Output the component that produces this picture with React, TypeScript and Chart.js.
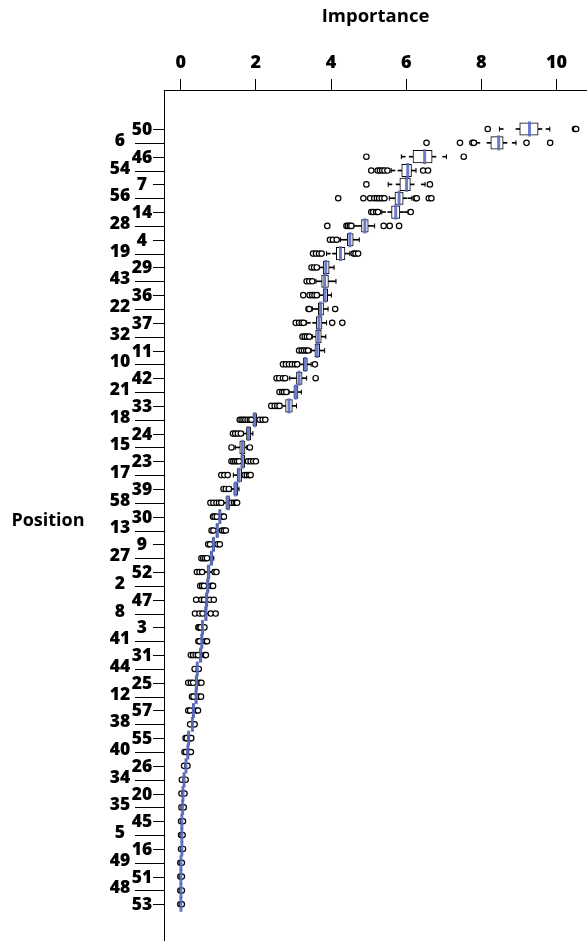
import React, { useEffect, useRef } from 'react';
import { Chart, registerables } from 'chart.js';

Chart.register(...registerables);

// ---------------- data ----------------
const positions = ['50','6','46','54','7','56','14','28','4','19','29','43','36','22','37','32','11','10','42','21','33','18','24','15','23','17','39','58','30','13','9','27','52','2','47','8','3','41','31','44','25','12','57','38','55','40','26','34','20','35','45','5','16','49','51','48','53'];

const whiskerLow = [8.48,7.86,5.87,5.6,5.52,5.55,5.35,4.6,4.25,3.88,3.68,3.6,3.68,3.5,3.35,3.5,3.47,3.16,2.9,2.88,2.68,1.9,1.66,1.45,1.58,1.4,1.35,1.14,1.0,0.92,0.8,0.74,0.62,0.64,0.64,0.62,0.55,0.52,0.47,0.4,0.35,0.36,0.28,0.28,0.17,0.15,0.11,0.05,0.04,0.03,0.01,0.01,0.01,0.0,0.0,0.0,0.0];
const q1 = [9.02,8.25,6.18,5.88,5.83,5.70,5.61,4.81,4.43,4.14,3.79,3.75,3.79,3.66,3.61,3.59,3.57,3.26,3.08,3.01,2.79,1.92,1.75,1.57,1.60,1.50,1.41,1.20,1.02,0.94,0.84,0.78,0.70,0.69,0.66,0.64,0.56,0.54,0.50,0.42,0.38,0.38,0.31,0.30,0.19,0.17,0.12,0.07,0.05,0.04,0.02,0.02,0.02,0.0,0.0,0.0,0.0];
const median = [9.28,8.46,6.49,6.04,6.01,5.81,5.72,4.90,4.50,4.25,3.86,3.83,3.84,3.72,3.68,3.66,3.63,3.31,3.15,3.06,2.88,1.97,1.80,1.64,1.64,1.55,1.46,1.26,1.04,0.97,0.87,0.82,0.74,0.72,0.69,0.67,0.58,0.56,0.53,0.44,0.42,0.41,0.34,0.31,0.21,0.19,0.14,0.09,0.06,0.05,0.03,0.03,0.03,0.005,0.005,0.005,0.005];
const q3 = [9.51,8.58,6.69,6.14,6.11,5.92,5.83,4.99,4.59,4.37,3.95,3.93,3.91,3.80,3.76,3.74,3.70,3.37,3.23,3.12,2.97,2.02,1.86,1.71,1.70,1.62,1.52,1.30,1.07,1.00,0.90,0.85,0.78,0.75,0.72,0.70,0.60,0.59,0.56,0.46,0.45,0.43,0.36,0.33,0.23,0.21,0.15,0.10,0.07,0.06,0.04,0.04,0.04,0.01,0.01,0.01,0.01];
const whiskerHigh = [9.82,8.92,7.07,6.26,6.5,6.15,6.05,5.16,4.75,4.5,4.08,4.13,4.01,3.92,3.88,3.86,3.83,3.47,3.35,3.21,3.08,2.05,1.92,1.76,1.74,1.66,1.55,1.32,1.09,1.05,0.94,0.88,0.85,0.8,0.74,0.74,0.61,0.62,0.6,0.47,0.48,0.46,0.39,0.34,0.25,0.23,0.16,0.12,0.08,0.07,0.05,0.05,0.05,0.02,0.02,0.02,0.02];
const outliers: number[][] = [
  [8.17, 10.49, 10.52],
  [6.54, 7.43, 7.76, 7.8, 9.2, 9.83],
  [4.94, 7.53],
  [5.07, 5.24, 5.3, 5.36, 5.42, 5.5, 6.45, 6.58],
  [4.94, 6.63],
  [4.19, 4.86, 5.04, 5.15, 5.22, 5.28, 5.35, 5.42, 6.25, 6.28, 6.6, 6.67],
  [5.07, 5.12, 5.2, 5.25, 6.12],
  [3.9, 4.41, 4.45, 4.5, 4.54, 5.4, 5.56, 5.81],
  [3.97, 4.05, 4.15],
  [3.52, 3.6, 3.68, 3.75, 4.6, 4.65, 4.72],
  [3.48, 3.55, 3.62],
  [3.35, 3.42, 3.5],
  [3.26, 3.43, 3.5, 3.56, 3.62],
  [3.4, 3.42, 4.11],
  [3.06, 3.15, 3.22, 3.27, 4.03, 4.3],
  [3.24, 3.3, 3.36, 3.42],
  [3.15, 3.22, 3.28, 3.34, 3.39],
  [2.72, 2.8, 2.88, 2.96, 3.04, 3.1, 3.57],
  [2.55, 2.62, 2.72, 2.78, 3.59],
  [2.63, 2.7, 2.75, 2.81],
  [2.41, 2.5, 2.57, 2.63],
  [1.57, 1.62, 1.67, 1.72, 1.78, 1.84, 1.88, 2.1, 2.18, 2.25],
  [1.39, 1.45, 1.52, 1.6],
  [1.35, 1.84],
  [1.35, 1.4, 1.45, 1.5, 1.55, 1.79, 1.86, 1.93, 2.0],
  [1.08, 1.16, 1.25, 1.7, 1.76, 1.82, 1.86],
  [1.14, 1.2, 1.28],
  [0.79, 0.87, 0.95, 1.02, 1.08, 1.35, 1.42, 1.47, 1.5],
  [0.86, 0.9, 0.96, 1.11, 1.15],
  [0.82, 0.87, 1.1, 1.15, 1.2],
  [0.73, 0.78, 0.98, 1.04],
  [0.55, 0.6, 0.65, 0.7],
  [0.43, 0.5, 0.57, 0.9, 0.95],
  [0.52, 0.57, 0.62, 0.82, 0.86],
  [0.41, 0.55, 0.62, 0.78, 0.88],
  [0.38, 0.5, 0.58, 0.8, 0.93],
  [0.47, 0.5, 0.53, 0.63],
  [0.47, 0.5, 0.66, 0.7],
  [0.27, 0.33, 0.4, 0.46, 0.64, 0.67],
  [0.37, 0.48],
  [0.2, 0.27, 0.33, 0.5, 0.55],
  [0.3, 0.34, 0.48, 0.54],
  [0.2, 0.25, 0.42, 0.46],
  [0.25, 0.37],
  [0.13, 0.16, 0.26, 0.28],
  [0.1, 0.14, 0.24, 0.27],
  [0.09, 0.18],
  [0.03, 0.13],
  [0.02, 0.1],
  [0.02, 0.08],
  [0.01, 0.06],
  [0.01, 0.05],
  [0.01, 0.06],
  [-0.01, 0.03],
  [-0.01, 0.03],
  [-0.01, 0.03],
  [-0.01, 0.03],
];
const xTicks = [0, 2, 4, 6, 8, 10];
const xTitle = 'Importance';
const yTitle = 'Position';

// ---------------- style ----------------
const FONT = '"Open Sans", "Liberation Sans", sans-serif';
const MEDIAN_COLOR = 'rgba(88,106,192,0.88)';
const STUB = 0.1; // whisker stub length in data units

const labelPlugin = {
  id: 'positionLabels',
  afterDraw(chart: any) {
    const { ctx, chartArea, scales } = chart;
    const ys = scales.y;
    const left = chartArea.left;
    ctx.save();
    ctx.fillStyle = '#000';
    ctx.strokeStyle = '#000';
    ctx.lineWidth = 1;
    ctx.textAlign = 'center';
    ctx.textBaseline = 'middle';
    ctx.font = `800 17.5px ${FONT}`;
    positions.forEach((p, i) => {
      const y = ys.getPixelForValue(i);
      const yy = Math.round(y) + 0.5;
      ctx.beginPath();
      if (i % 2 === 0) {
        ctx.moveTo(left - 11, yy);
        ctx.lineTo(left, yy);
        ctx.stroke();
        ctx.fillText(p, left - 22, y + 1);
      } else {
        ctx.moveTo(left - 29, yy);
        ctx.lineTo(left, yy);
        ctx.stroke();
        ctx.fillText(p, left - 44, y - 2);
      }
    });
    ctx.font = `bold 18px ${FONT}`;
    ctx.fillText(yTitle, 48, (chartArea.top + chartArea.bottom) / 2 + 5);
    ctx.restore();
  },
};

export default function App() {
  const canvasRef = useRef<HTMLCanvasElement | null>(null);

  useEffect(() => {
    if (!canvasRef.current) return;

    const boxData = positions.map((_, i) => ({ x: [q1[i], q3[i]], y: i }));
    const stubData: any[] = [];
    positions.forEach((_, i) => {
      const segs: [number, number][] = [
        [whiskerLow[i], q1[i]],
        [q3[i], whiskerHigh[i]],
      ];
      segs.forEach(([a, b]) => {
        if (b - a <= 0) return;
        if (b - a <= 2 * STUB) {
          stubData.push({ x: [a, b], y: i });
        } else {
          stubData.push({ x: [a, a + STUB], y: i });
          stubData.push({ x: [b - STUB, b], y: i });
        }
      });
    });
    const capData: any[] = [];
    positions.forEach((_, i) => {
      capData.push({ x: whiskerLow[i], y: i });
      capData.push({ x: whiskerHigh[i], y: i });
    });
    const outlierData: any[] = [];
    outliers.forEach((arr, i) => arr.forEach((v) => outlierData.push({ x: v, y: i })));
    const medianData = median.map((m, i) => ({ x: m, y: i }));

    Chart.defaults.font.family = FONT;

    const chart = new Chart(canvasRef.current, {
      type: 'scatter',
      data: {
        datasets: [
          {
            type: 'scatter',
            label: 'median',
            data: medianData,
            pointStyle: 'line',
            rotation: 90,
            radius: 7.5,
            hoverRadius: 7.5,
            borderWidth: 3,
            borderColor: MEDIAN_COLOR,
            backgroundColor: MEDIAN_COLOR,
            order: 0,
          } as any,
          {
            type: 'scatter',
            label: 'outliers',
            data: outlierData,
            pointStyle: 'circle',
            radius: 2.7,
            hoverRadius: 2.7,
            borderWidth: 1.2,
            borderColor: '#000',
            backgroundColor: '#fff',
            order: 1,
          } as any,
          {
            type: 'bar',
            label: 'box',
            indexAxis: 'y',
            grouped: false,
            data: boxData,
            backgroundColor: '#fff',
            borderColor: '#000',
            borderWidth: 1,
            borderSkipped: false,
            barPercentage: 1,
            categoryPercentage: 1,
            maxBarThickness: 12.5,
            order: 2,
          } as any,
          {
            type: 'bar',
            label: 'whisker',
            indexAxis: 'y',
            grouped: false,
            data: stubData,
            backgroundColor: '#000',
            borderWidth: 0,
            barPercentage: 1,
            categoryPercentage: 1,
            maxBarThickness: 1,
            order: 3,
          } as any,
          {
            type: 'scatter',
            label: 'caps',
            data: capData,
            pointStyle: 'line',
            rotation: 90,
            radius: 2.5,
            hoverRadius: 2.5,
            borderWidth: 1,
            borderColor: '#000',
            order: 3,
          } as any,
        ],
      },
      options: {
        animation: false,
        responsive: true,
        maintainAspectRatio: false,
        devicePixelRatio: 1,
        layout: { padding: 0, autoPadding: false },
        events: [],
        plugins: { legend: { display: false }, tooltip: { enabled: false } },
        scales: {
          x: {
            type: 'linear',
            position: 'top',
            offset: false,
            min: -0.445,
            max: 10.81,
            afterBuildTicks: (s: any) => {
              s.ticks = xTicks.map((v) => ({ value: v }));
            },
            afterFit: (s: any) => {
              s.height = 90;
            },
            ticks: {
              color: '#000',
              padding: 5,
              font: { size: 18, weight: '800' },
              callback: (v: any) => String(v),
            },
            grid: { offset: false, drawOnChartArea: false, tickLength: 11, tickColor: '#000', tickWidth: 1 },
            border: { display: true, color: '#000', width: 1 },
            title: {
              display: true,
              text: xTitle,
              color: '#000',
              font: { size: 18.5, weight: 'bold' },
              padding: { top: 6, bottom: 6 },
            },
          },
          y: {
            type: 'linear',
            reverse: true,
            offset: false,
            min: -2.817,
            max: 58.65,
            afterFit: (s: any) => {
              s.width = 164;
            },
            ticks: { display: false },
            grid: { display: false, drawTicks: false, offset: false },
            border: { display: true, color: '#000', width: 1 },
          },
        },
      } as any,
      plugins: [labelPlugin],
    });

    return () => chart.destroy();
  }, []);

  return (
    <div style={{ position: 'fixed', left: 0, top: 0, width: 587, height: 941, background: '#fff' }}>
      <canvas ref={canvasRef} />
    </div>
  );
}
